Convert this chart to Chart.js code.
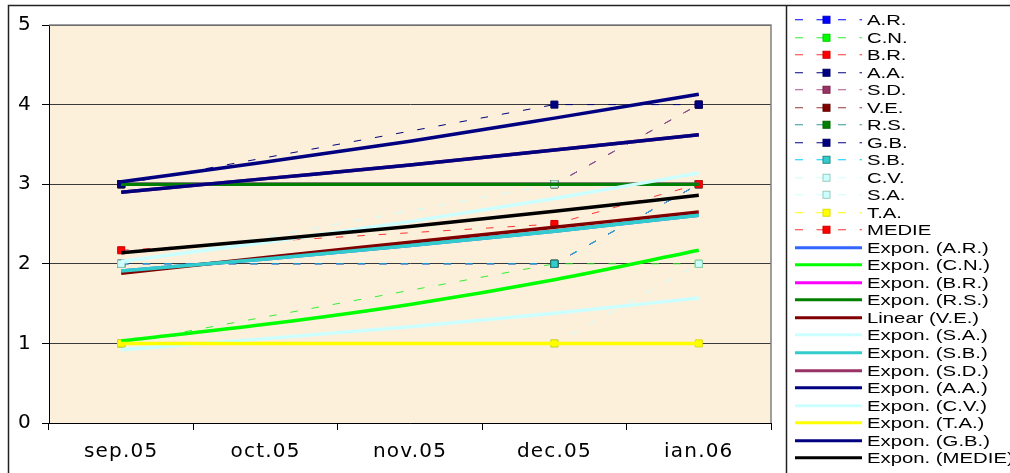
<!DOCTYPE html>
<html>
<head>
<meta charset="utf-8">
<title>Evolutie note</title>
<script src="https://cdn.jsdelivr.net/npm/chart.js@4.4.1/dist/chart.umd.min.js"></script>
<style>
  html, body { margin: 0; padding: 0; background: #fff; overflow: hidden; }
  #wrap { position: relative; width: 1010px; height: 473px; }
  #chart { position: absolute; left: 0; top: 0; }
  #legend {
    position: absolute; left: 787px; top: 6px; width: 223px; height: 467px;
    overflow: hidden; padding-top: 5.2px; box-sizing: border-box;
    font-family: "Liberation Sans", Arial, sans-serif; font-size: 15.5px; color: #000;
  }
  .row { display: flex; align-items: center; height: 17.52px; padding-left: 8px; white-space: nowrap; }
  .row svg { flex: none; }
  .row span { display: inline-block; margin-left: 5px; line-height: 17.52px;
    transform: scaleX(1.31); transform-origin: left center; }
</style>
</head>
<body>
<div id="wrap">
  <canvas id="chart" width="1010" height="473"></canvas>
  <div id="legend"></div>
</div>
<script>
// categories on the x axis
var months = ["sep.05", "oct.05", "nov.05", "dec.05", "ian.06"];

// marks per student (no marks in oct / nov)
var AR    = [2, null, null, 2, 3];
var CN    = [1, null, null, 2, 2];
var BR    = [3, null, null, 3, 3];
var AA    = [3, null, null, 3, 4];
var SD    = [3, null, null, 3, 4];
var VE    = [2, null, null, 2, 3];
var RS    = [3, null, null, 3, 3];
var GB    = [3, null, null, 4, 4];
var SB    = [2, null, null, 2, 3];
var CV    = [2, null, null, 3, 3];
var SA    = [1, null, null, 1, 2];
var TA    = [1, null, null, 1, 1];
var MEDIE = [2.17, null, null, 2.5, 3];

// trend lines, read at each month
var trendAR    = [1.91, 2.06, 2.23, 2.41, 2.61];
var trendCN    = [1.03, 1.24, 1.49, 1.80, 2.17];
var trendBR    = [3, 3, 3, 3, 3];
var trendRS    = [3, 3, 3, 3, 3];
var trendVE    = [1.88, 2.08, 2.27, 2.46, 2.65];
var trendSA    = [0.92, 1.06, 1.21, 1.38, 1.57];
var trendSB    = [1.91, 2.06, 2.23, 2.41, 2.61];
var trendSD    = [2.90, 3.07, 3.24, 3.43, 3.62];
var trendAA    = [2.90, 3.07, 3.24, 3.43, 3.62];
var trendCV    = [2.03, 2.27, 2.53, 2.82, 3.14];
var trendTA    = [1, 1, 1, 1, 1];
var trendGB    = [3.03, 3.28, 3.54, 3.83, 4.13];
var trendMEDIE = [2.14, 2.30, 2.47, 2.66, 2.86];

var seriesNames  = ["A.R.", "C.N.", "B.R.", "A.A.", "S.D.", "V.E.", "R.S.", "G.B.", "S.B.", "C.V.", "S.A.", "T.A.", "MEDIE"];
var seriesValues = [AR, CN, BR, AA, SD, VE, RS, GB, SB, CV, SA, TA, MEDIE];
var lineColors   = ["#0000FF", "#33EE33", "#FF3333", "#000080", "#AA5588", "#993333", "#339999", "#000080", "#00CCFF", "#CCFFFF", "#CCFFFF", "#FFFF00", "#FF3333"];
var markColors   = ["#0000FF", "#00FF00", "#FF0000", "#000080", "#993366", "#800000", "#008000", "#000080", "#33CCCC", "#CCFFFF", "#CCFFFF", "#FFFF00", "#FF0000"];
var markEdges    = ["#0000CC", "#00CC00", "#CC0000", "#000060", "#772244", "#600000", "#006000", "#000060", "#228888", "#99CCBB", "#99CCBB", "#DDDD00", "#CC0000"];

var trendNames  = ["Expon. (A.R.)", "Expon. (C.N.)", "Expon. (B.R.)", "Expon. (R.S.)", "Linear (V.E.)", "Expon. (S.A.)",
                   "Expon. (S.B.)", "Expon. (S.D.)", "Expon. (A.A.)", "Expon. (C.V.)", "Expon. (T.A.)", "Expon. (G.B.)", "Expon. (MEDIE)"];
var trendValues = [trendAR, trendCN, trendBR, trendRS, trendVE, trendSA, trendSB, trendSD, trendAA, trendCV, trendTA, trendGB, trendMEDIE];
var trendColors = ["#3366FF", "#00FF00", "#FF00FF", "#008000", "#800000", "#CCFFFF", "#33CCCC", "#993366", "#000080", "#CCFFFF", "#FFFF00", "#000080", "#000000"];

var datasets = [];

// later series sit on top, trend lines above all marks
seriesNames.forEach(function(name, i) {
  datasets.push({
    label: name,
    data: seriesValues[i],
    borderColor: lineColors[i],
    borderWidth: 1,
    borderDash: [7.5, 14],
    spanGaps: true,
    pointStyle: "rect",
    pointRadius: 5,
    pointBackgroundColor: markColors[i],
    pointBorderColor: markEdges[i],
    pointBorderWidth: 1,
    order: 200 - i
  });
});

trendNames.forEach(function(name, j) {
  datasets.push({
    label: name,
    data: trendValues[j],
    borderColor: trendColors[j],
    borderWidth: 3.5,
    pointRadius: 0,
    cubicInterpolationMode: "monotone",
    order: 100 - j
  });
});

var framePlugin = {
  id: "frame",
  beforeDraw: function(chart) {
    var ctx = chart.ctx, a = chart.chartArea;
    ctx.save();
    ctx.fillStyle = "#FFFFFF";
    ctx.fillRect(0, 0, chart.width, chart.height);
    ctx.fillStyle = "#FCF0DA";
    ctx.fillRect(a.left, a.top, a.right - a.left, a.bottom - a.top);
    ctx.strokeStyle = "#222";
    ctx.lineWidth = 1.5;
    ctx.beginPath();
    ctx.moveTo(8.5, 480); ctx.lineTo(8.5, 5.5); ctx.lineTo(1015, 5.5);
    ctx.moveTo(786.5, 5.5); ctx.lineTo(786.5, 480);
    ctx.stroke();
    ctx.restore();
    ctx.letterSpacing = "1.2px";
  },
  beforeDatasetsDraw: function(chart) {
    var ctx = chart.ctx, a = chart.chartArea;
    ctx.save();
    ctx.strokeStyle = "#808080";
    ctx.lineWidth = 1.5;
    ctx.beginPath();
    ctx.moveTo(a.left, a.top); ctx.lineTo(a.right, a.top); ctx.lineTo(a.right, a.bottom);
    ctx.stroke();
    ctx.restore();
  }
};

var chart = new Chart(document.getElementById("chart"), {
  type: "line",
  data: { labels: months, datasets: datasets },
  options: {
    responsive: false,
    animation: false,
    devicePixelRatio: 1,
    layout: { padding: { left: 8, top: 25, right: 239, bottom: 0 } },
    plugins: { legend: { display: false }, tooltip: { enabled: false } },
    scales: {
      x: {
        offset: true,
        grid: { offset: true, drawOnChartArea: false, tickLength: 7, color: "#000" },
        border: { color: "#000", width: 1 },
        ticks: { color: "#000", font: { family: "DejaVu Sans", size: 20 }, padding: 10, maxRotation: 0, autoSkip: false },
        afterFit: function(scale) { scale.height = 50; }
      },
      y: {
        min: 0,
        max: 5,
        grid: { color: "#3a3a3a", tickLength: 7, tickColor: "#000" },
        border: { color: "#000", width: 1 },
        ticks: { stepSize: 1, color: "#000", font: { family: "DejaVu Sans", size: 20 }, padding: 10 },
        afterFit: function(scale) { scale.width = 41; }
      }
    }
  },
  plugins: [framePlugin]
});

// legend on the right, built from the chart's own datasets
function makeLegend(selector) {
  var box = document.getElementById(selector);
  chart.data.datasets.forEach(function(ds) {
    var svg;
    if (ds.borderDash) {
      svg = '<svg width="67" height="17.5">' +
        '<line x1="0" y1="8.75" x2="67" y2="8.75" stroke="' + ds.borderColor + '" stroke-width="1" stroke-dasharray="8 13.5"/>' +
        '<rect x="28" y="5.25" width="7" height="7" fill="' + ds.pointBackgroundColor + '" stroke="' + ds.pointBorderColor + '" stroke-width="1"/></svg>';
    } else {
      svg = '<svg width="67" height="17.5">' +
        '<line x1="0" y1="8.75" x2="67" y2="8.75" stroke="' + ds.borderColor + '" stroke-width="3"/></svg>';
    }
    var row = document.createElement("div");
    row.className = "row";
    row.innerHTML = svg + "<span>" + ds.label + "</span>";
    box.appendChild(row);
  });
}

makeLegend("legend");
</script>
</body>
</html>
